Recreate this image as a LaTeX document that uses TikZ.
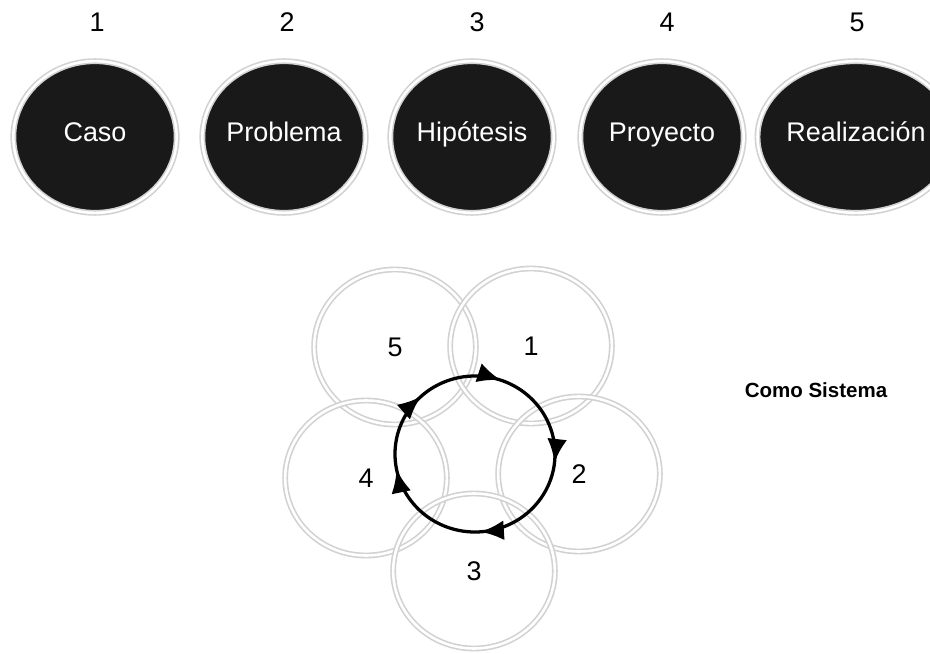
\documentclass[tikz,border=0pt]{standalone}
\usepackage{fontspec}
\setmainfont{Liberation Sans}
\usetikzlibrary{shapes.geometric,arrows.meta,decorations.markings}

\begin{document}
\begin{tikzpicture}[
  x=0.03cm, y=-0.03cm,
  blob/.style={ellipse, fill=black!90, draw=gray!35, double=white, double distance=2.2pt, line width=1.4pt,
    minimum width=4.9cm, minimum height=4.55cm, inner sep=0pt, text=white,
    font=\fontsize{23}{27}\selectfont, text height=1.6ex, text depth=0.2ex},
  ring/.style={ellipse, draw=gray!35, double=white, double distance=2.2pt, line width=1.4pt,
    minimum width=4.85cm, minimum height=4.65cm, inner sep=0pt,
    font=\fontsize{23}{27}\selectfont},
  num/.style={font=\fontsize{23}{27}\selectfont},
  cyc/.style={line width=2.8pt, postaction={decorate},
    decoration={markings,
      mark=at position 0.053 with {\arrow{Latex[length=20pt,width=17pt]}},
      mark=at position 0.267 with {\arrow{Latex[length=20pt,width=17pt]}},
      mark=at position 0.489 with {\arrow{Latex[length=20pt,width=17pt]}},
      mark=at position 0.719 with {\arrow{Latex[length=20pt,width=17pt]}},
      mark=at position 0.881 with {\arrow{Latex[length=20pt,width=17pt]}}}}
]
  \useasboundingbox (0,0) rectangle (930,654);

  % fases en fila
  \node[num] (n1) at (97,22) {1};
  \node[num] (n2) at (287,22) {2};
  \node[num] (n3) at (477,22) {3};
  \node[num] (n4) at (667,22) {4};
  \node[num] (n5) at (857,22) {5};
  \node[blob] (caso) at (95,137) {Caso};
  \node[blob] (prob) at (284,137) {Problema};
  \node[blob] (hip) at (472,137) {Hipótesis};
  \node[blob] (proy) at (662,137) {Proyecto};
  \node[blob] (real) at (856,137) {Realización};

  % como sistema
  \node[ring] (r5) at (395,347) {5};
  \node[ring] (r1) at (531,346) {1};
  \node[ring] (r4) at (366,478) {4};
  \node[ring] (r2) at (579,474) {2};
  \node[ring] (r3) at (474,571) {3};
  \coordinate (ctr) at (475,454);
  \draw[cyc] ([yshift=2.34cm]ctr) arc[start angle=90, end angle=-270, x radius=2.4cm, y radius=2.34cm];

  \node[font=\fontsize{17.5}{21}\selectfont\bfseries] (sis) at (816,390) {Como Sistema};
\end{tikzpicture}
\end{document}
